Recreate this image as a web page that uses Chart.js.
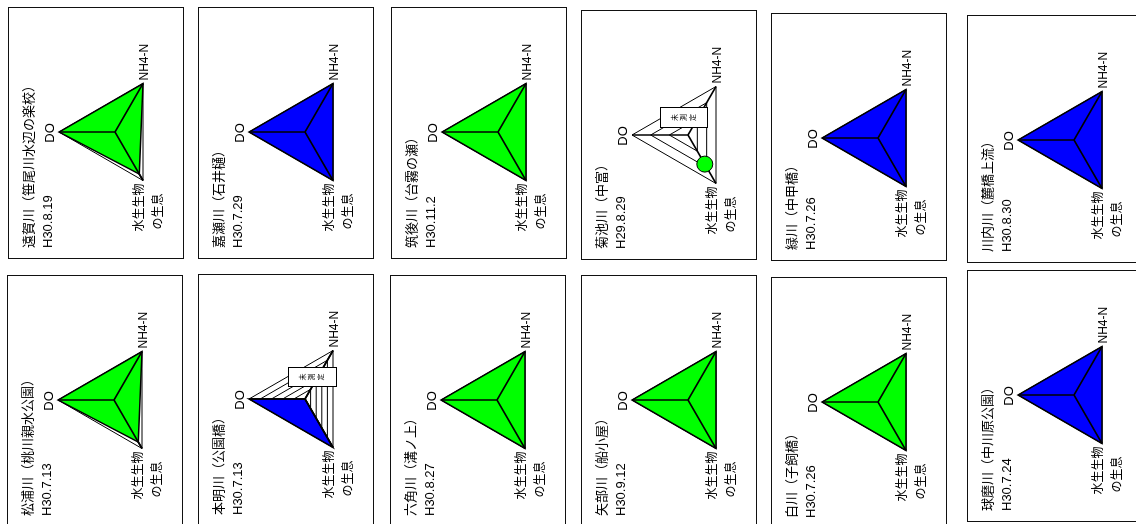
<!DOCTYPE html>
<html>
<head>
<meta charset="utf-8">
<script src="https://cdn.jsdelivr.net/npm/chart.js@4.4.1/dist/chart.umd.min.js"></script>
<style>
html, body { margin: 0; padding: 0; background: #fff; }
body { width: 1136px; height: 524px; position: relative; overflow: hidden; font-family: 'Noto Sans CJK JP', sans-serif; }
.panel { position: absolute; transform-origin: 0 0; transform: rotate(-90deg); border: 1px solid #111; box-sizing: border-box; background: #fff; }
.panel canvas { position: absolute; left: 0; top: 0; }
.title { position: absolute; left: 10px; top: 11px; font-size: 13px; line-height: 16px; white-space: nowrap; color: #000; }
.date { position: absolute; left: 10px; top: 31px; font-size: 13px; line-height: 16px; white-space: nowrap; font-family: 'Liberation Sans', sans-serif; color: #000; }
.nodata { position: absolute; z-index: 2; border: 1px solid #000; background: #fff; box-sizing: border-box;
  writing-mode: vertical-rl; font-size: 7px; display: flex; align-items: center; justify-content: center; letter-spacing: 2px; }
</style>
</head>
<body>
<script>
// ---- データ ----
const axisLabels = ['DO', 'NH4-N', ['水生生物', 'の生息']];
const siteNames = [
  '遠賀川（笹尾川水辺の楽校）', '嘉瀬川（石井樋）', '筑後川（台霧の瀬）', '菊池川（中富）', '緑川（中甲橋）', '川内川（麓橋上流）',
  '松浦川（桃川親水公園）', '本明川（公園橋）', '六角川（溝ノ上）', '矢部川（船小屋）', '白川（子飼橋）', '球磨川（中川原公園）'
];
const surveyDates = ['H30.8.19', 'H30.7.29', 'H30.11.2', 'H29.8.29', 'H30.7.26', 'H30.8.30',
  'H30.7.13', 'H30.7.13', 'H30.8.27', 'H30.9.12', 'H30.7.26', 'H30.7.24'];
const doValues   = [3, 3, 3, null, 3, 3, 3, 5, 3, 3, 3, 3];
const nh4Values  = [3, 3, 3, null, 3, 3, 3, 0, 3, 3, 3, 3];
const lifeValues = [2.6, 3, 3, 1.8, 3, 3, 2.6, 5, 3, 3, 3, 3];
const scaleMax   = [3, 3, 3, 3, 3, 3, 3, 5, 3, 3, 3, 3];
const ranks      = ['B', 'A', 'B', 'B', 'A', 'A', 'B', 'A', 'B', 'B', 'B', 'A'];
const unmeasured = ['', '', '', '未測定', '', '', '', '未測定', '', '', '', ''];

// ---- 配置・スタイル ----
const rankColors = { A: '#0000ff', B: '#00ff00' };
// 枠: left, top, right, bottom (ページ座標)
const boxes = [
  [8, 7, 184, 259], [198, 7, 374, 259], [391, 7, 567, 259], [581, 10, 757, 260], [771, 13, 947, 261], [967, 15, 1143, 263],
  [7, 275, 183, 527], [198, 274, 374, 526], [390, 275, 566, 527], [581, 275, 757, 527], [771, 277, 947, 529], [967, 270, 1143, 522]
];
// 未測定ボックス (回転前の座標: left, top, width, height)
const noDataBox = { 3: [131, 78, 21, 48], 7: [138, 89, 20, 49] };
const RADIUS = 56;
const CENTER_FROM_TOP = 125; // 画面上の上端からの距離
const CENTER_FROM_LEFT = 107;
const LINE_W = 1.5;

// 塗りの上に軸線を描く
const axisOnTop = {
  id: 'axisOnTop',
  afterDatasetsDraw(chart) {
    if (!chart.data.datasets[0].fill) return;
    const r = chart.scales.r;
    const ctx = chart.ctx;
    ctx.save();
    ctx.strokeStyle = '#000';
    ctx.lineWidth = LINE_W;
    ctx.beginPath();
    for (let i = 0; i < chart.data.labels.length; i++) {
      const p = r.getPointPosition(i, r.drawingArea);
      ctx.moveTo(r.xCenter, r.yCenter);
      ctx.lineTo(p.x, p.y);
    }
    ctx.stroke();
    ctx.restore();
  }
};

// 項目名
const axisNames = {
  id: 'axisNames',
  afterDraw(chart) {
    const r = chart.scales.r;
    const ctx = chart.ctx;
    ctx.save();
    ctx.fillStyle = '#000';
    chart.data.labels.forEach((lab, i) => {
      const p = r.getPointPosition(i, r.drawingArea);
      if (i === 0) {
        ctx.font = '13px "Liberation Sans"';
        ctx.textAlign = 'center';
        ctx.textBaseline = 'bottom';
        ctx.fillText(lab, p.x - 1, p.y - 2);
      } else if (i === 1) {
        ctx.font = '12px "Liberation Sans"';
        ctx.textAlign = 'left';
        ctx.textBaseline = 'middle';
        ctx.fillText(lab, p.x + 3, p.y + 2);
      } else {
        ctx.font = '12px "Noto Sans CJK JP"';
        ctx.textAlign = 'left';
        ctx.textBaseline = 'middle';
        const w = ctx.measureText(lab[0]).width;
        ctx.fillText(lab[0], p.x - 3 - w, p.y - 5);
        ctx.fillText(lab[1], p.x - 1 - w, p.y + 14);
      }
    });
    ctx.restore();
  }
};

boxes.forEach((b, i) => {
  const [left, top, right, bottom] = b;
  const W = bottom - top;   // 回転前の幅
  const H = right - left;   // 回転前の高さ
  const panel = document.createElement('div');
  panel.className = 'panel';
  panel.style.left = left + 'px';
  panel.style.top = bottom + 'px';
  panel.style.width = W + 'px';
  panel.style.height = H + 'px';
  document.body.appendChild(panel);

  const cw = W - 2, ch = H - 2;
  const canvas = document.createElement('canvas');
  canvas.width = cw;
  canvas.height = ch;
  canvas.style.width = cw + 'px';
  canvas.style.height = ch + 'px';
  panel.appendChild(canvas);

  const title = document.createElement('div');
  title.className = 'title';
  title.textContent = siteNames[i];
  panel.appendChild(title);
  const date = document.createElement('div');
  date.className = 'date';
  date.textContent = surveyDates[i];
  panel.appendChild(date);

  if (unmeasured[i]) {
    const nb = noDataBox[i];
    const d = document.createElement('div');
    d.className = 'nodata';
    d.style.left = nb[0] + 'px';
    d.style.top = nb[1] + 'px';
    d.style.width = nb[2] + 'px';
    d.style.height = nb[3] + 'px';
    d.textContent = unmeasured[i];
    panel.appendChild(d);
  }

  const cu = W - CENTER_FROM_TOP - 1;
  const cv = CENTER_FROM_LEFT - 1;
  const color = rankColors[ranks[i]];
  const markerOnly = doValues[i] === null;

  new Chart(canvas.getContext('2d'), {
    type: 'radar',
    data: {
      labels: axisLabels,
      datasets: [{
        data: [doValues[i], nh4Values[i], lifeValues[i]],
        backgroundColor: color,
        borderColor: '#000',
        borderWidth: LINE_W,
        fill: !markerOnly,
        showLine: !markerOnly,
        pointRadius: markerOnly ? 8 : 0,
        pointBackgroundColor: color,
        pointBorderColor: '#000',
        pointBorderWidth: 1
      }]
    },
    options: {
      responsive: false,
      animation: false,
      events: [],
      layout: {
        padding: { left: cu - RADIUS, right: cw - cu - RADIUS, top: cv - RADIUS, bottom: ch - cv - RADIUS }
      },
      plugins: { legend: { display: false }, tooltip: { enabled: false } },
      scales: {
        r: {
          min: 0,
          max: scaleMax[i],
          ticks: { display: false, stepSize: 1 },
          grid: { color: '#000', lineWidth: 1 },
          angleLines: { display: true, color: '#000', lineWidth: LINE_W },
          pointLabels: { display: false }
        }
      }
    },
    plugins: [axisOnTop, axisNames]
  });
});
</script>
</body>
</html>
